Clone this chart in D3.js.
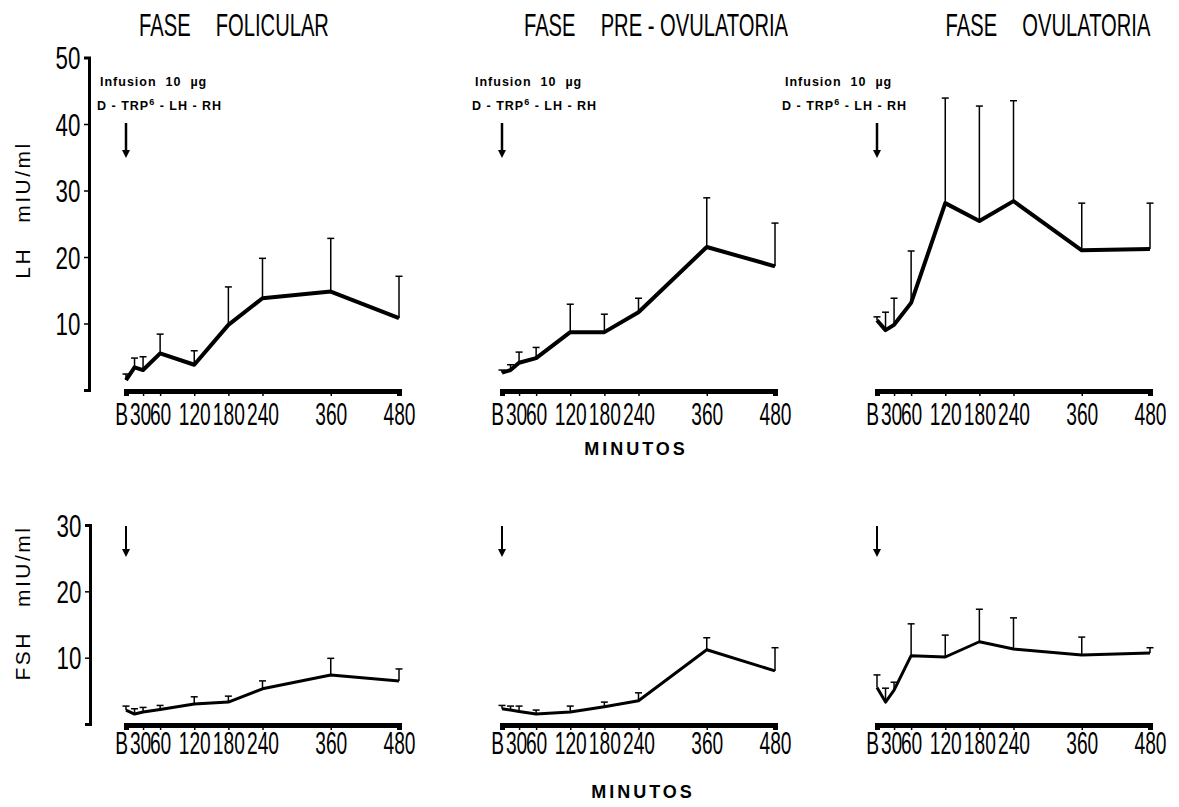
<!DOCTYPE html>
<html>
<head>
<meta charset="utf-8">
<script src="https://cdn.jsdelivr.net/npm/d3@7"></script>
<style>
body { margin: 0; background: #fff; }
svg { display: block; }
text { fill: #000; }
</style>
</head>
<body>
<svg id="chart" width="1179" height="807"></svg>
<script>
'use strict';

// sampling times (B = basal)
var minutes = [0, 15, 30, 60, 120, 180, 240, 360, 480];
var tickMinutes = [0, 30, 60, 120, 180, 240, 360, 480];
var tickLabels = ["B", "30", "60", "120", "180", "240", "360", "480"];
var phaseNames = [["FASE", "FOLICULAR"], ["FASE", "PRE - OVULATORIA"], ["FASE", "OVULATORIA"]];

// LH mIU/ml, mean and mean + error
var lhFolicular = [1.5, 3.4, 3.0, 5.5, 3.8, 9.8, 13.8, 14.8, 10.8];
var lhFolicularTop = [2.4, 4.8, 5.0, 8.4, 5.9, 15.5, 19.8, 22.8, 17.1];
var lhPreOvul = [2.6, 3.0, 4.1, 4.8, 8.7, 8.7, 11.7, 21.5, 18.6];
var lhPreOvulTop = [3.0, 3.8, 5.7, 6.4, 12.9, 11.4, 13.8, 28.9, 25.1];
var lhOvul = [10.5, 9.0, 9.8, 13.1, 28.1, 25.4, 28.4, 21.0, 21.2];
var lhOvulTop = [11.0, 11.7, 13.8, 20.9, 43.9, 42.7, 43.5, 28.1, 28.1];

// FSH mIU/ml
var fshFolicular = [2.1, 1.5, 1.8, 2.2, 3.0, 3.3, 5.3, 7.4, 6.5];
var fshFolicularTop = [2.7, 2.3, 2.5, 2.8, 4.1, 4.2, 6.5, 9.9, 8.3];
var fshPreOvul = [2.3, 2.1, 1.9, 1.5, 1.8, 2.6, 3.5, 11.2, 8.0];
var fshPreOvulTop = [2.8, 2.7, 2.7, 2.1, 2.7, 3.3, 4.7, 13.0, 11.5];
var fshOvul = [5.5, 3.3, 5.1, 10.3, 10.1, 12.4, 11.3, 10.4, 10.7];
var fshOvulTop = [7.4, 5.4, 6.3, 15.1, 13.4, 17.3, 16.0, 13.1, 11.5];

var lhTicks = [0, 10, 20, 30, 40, 50];
var fshTicks = [0, 10, 20, 30];

var svg = d3.select("#chart");
svg.append("rect").attr("width", 1179).attr("height", 807).attr("fill", "#fff");

var panelLeft = [126, 502, 877],
	panelWidth = 273,
	titleCenter = [234, 656, 1048],
	noteShift = [-26, -27, -92];

var rows = [
	{ hormone: "LH", max: 50, ticks: lhTicks, range: [390, 57.5], labelY: 34, lineW: 4,
	  means: [lhFolicular, lhPreOvul, lhOvul], tops: [lhFolicularTop, lhPreOvulTop, lhOvulTop],
	  arrow: [123, 158], notes: true, titleY: 210, minutos: [636, 455], axisX: 89 },
	{ hormone: "FSH", max: 30, ticks: fshTicks, range: [724, 525], labelY: 29, lineW: 3,
	  means: [fshFolicular, fshPreOvul, fshOvul], tops: [fshFolicularTop, fshPreOvulTop, fshOvulTop],
	  arrow: [526, 557], notes: false, titleY: 603, minutos: [643, 798], axisX: 90 }
];

var narrow = "'Liberation Sans', Arial, sans-serif";

// phase titles
phaseNames.forEach(function(p, i) {
	var t = svg.append("text")
		.attr("transform", "translate(" + titleCenter[i] + ",36) scale(0.63,1)")
		.attr("text-anchor", "middle")
		.attr("font-family", narrow)
		.attr("font-size", 32)
		.text(p[0]);
	t.append("tspan").attr("dx", 40).text(p[1]);
});

rows.forEach(function(row) {
	var y = d3.scaleLinear().domain([0, row.max]).range(row.range);

	// y axis on the first panel only
	var ya = svg.append("g")
		.attr("transform", "translate(" + row.axisX + ",0)")
		.call(d3.axisLeft(y).tickValues(row.ticks)
			.tickFormat(function(d) { return d ? d : ""; })
			.tickSize(5).tickSizeOuter(5));
	ya.select(".domain").attr("stroke-width", 3);
	ya.selectAll(".tick line").attr("stroke-width", 1.5);
	ya.selectAll(".tick text")
		.attr("font-family", narrow)
		.attr("font-size", 31)
		.attr("x", -12)
		.attr("dy", "0.36em")
		.attr("transform", "scale(0.72,1)");

	// rotated axis title
	var at = svg.append("text")
		.attr("transform", "translate(30," + row.titleY + ") rotate(-90)")
		.attr("text-anchor", "middle")
		.attr("font-family", narrow)
		.attr("font-size", 21)
		.attr("letter-spacing", 2.5)
		.text(row.hormone);
	at.append("tspan").attr("dx", 24).text("mIU/ml");

	row.means.forEach(function(means, i) {
		var x = d3.scaleLinear().domain([0, 480]).range([panelLeft[i], panelLeft[i] + panelWidth]);
		var g = svg.append("g");

		// x axis: thick bar
		var xa = g.append("g")
			.attr("transform", "translate(0," + (y(0) + 1) + ")")
			.call(d3.axisBottom(x).tickValues(tickMinutes)
				.tickFormat(function(d, k) { return tickLabels[k]; })
				.tickSize(5).tickSizeOuter(5));
		xa.select(".domain").attr("stroke-width", 5);
		xa.selectAll(".tick line").attr("stroke-width", 1.5);
		xa.selectAll(".tick text")
			.attr("font-family", narrow)
			.attr("font-size", 32)
			.attr("y", row.labelY)
			.attr("dy", 0)
			.attr("x", function(d) { return d === 0 ? -8 : d === 30 ? -5 : 0; })
			.attr("transform", "scale(0.6,1)");

		var pts = minutes.map(function(t, k) {
			return { t: t, v: means[k], top: row.tops[i][k] };
		});

		// error bars
		g.selectAll(".err").data(pts).enter().append("line")
			.attr("x1", function(d) { return x(d.t); })
			.attr("x2", function(d) { return x(d.t); })
			.attr("y1", function(d) { return y(d.v); })
			.attr("y2", function(d) { return y(d.top); })
			.attr("stroke", "#000").attr("stroke-width", 1.5);
		g.selectAll(".cap").data(pts).enter().append("line")
			.attr("x1", function(d) { return x(d.t) - 3.5; })
			.attr("x2", function(d) { return x(d.t) + 3.5; })
			.attr("y1", function(d) { return y(d.top); })
			.attr("y2", function(d) { return y(d.top); })
			.attr("stroke", "#000").attr("stroke-width", 1.5);

		// mean line
		g.append("path")
			.datum(pts)
			.attr("d", d3.line().x(function(d) { return x(d.t); }).y(function(d) { return y(d.v); }))
			.attr("fill", "none")
			.attr("stroke", "#000")
			.attr("stroke-width", row.lineW)
			.attr("stroke-linejoin", "round");

		// infusion arrow
		var ax = x(0);
		g.append("line")
			.attr("x1", ax).attr("x2", ax)
			.attr("y1", row.arrow[0]).attr("y2", row.arrow[1] - 6)
			.attr("stroke", "#000").attr("stroke-width", row.notes ? 2.5 : 2);
		g.append("path")
			.attr("d", "M" + (ax - 4) + "," + (row.arrow[1] - 8) + "L" + (ax + 4) + "," + (row.arrow[1] - 8) + "L" + ax + "," + row.arrow[1] + "Z")
			.attr("fill", "#000");

		if (row.notes) {
			var nx = ax + noteShift[i];
			g.append("text")
				.attr("x", nx).attr("y", 86)
				.attr("font-family", narrow).attr("font-weight", "bold")
				.attr("font-size", 12.5).attr("letter-spacing", 1)
				.style("white-space", "pre")
				.text("Infusion  10  \u00b5g");
			var t2 = g.append("text")
				.attr("x", nx - 3).attr("y", 110)
				.attr("font-family", narrow).attr("font-weight", "bold")
				.attr("font-size", 12.5).attr("letter-spacing", 1)
				.style("white-space", "pre")
				.text("D - TRP");
			t2.append("tspan").attr("font-size", 9).attr("dy", -5).text("6");
			t2.append("tspan").attr("dy", 5).text(" - LH - RH");
		}
	});

	svg.append("text")
		.attr("x", row.minutos[0]).attr("y", row.minutos[1])
		.attr("text-anchor", "middle")
		.attr("font-family", narrow).attr("font-weight", "bold")
		.attr("font-size", 18).attr("letter-spacing", 3)
		.text("MINUTOS");
});
</script>
</body>
</html>
